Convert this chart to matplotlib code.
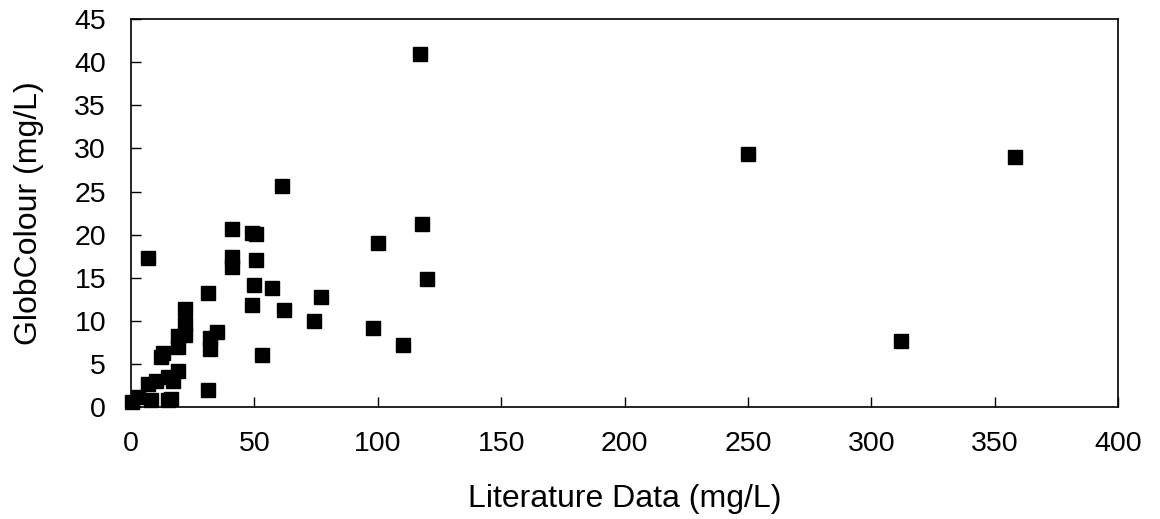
import matplotlib
matplotlib.use('Agg')
import matplotlib.pyplot as plt

plt.rcParams['font.family'] = ['Liberation Sans', 'DejaVu Sans']

# literature vs GlobColour values (mg/L)
lit = [0.5, 3, 8, 7, 10, 15, 16, 15, 17, 19,
       12, 13, 19, 19, 22, 22, 22, 6.8, 31, 31,
       32, 32, 35, 41, 41, 41, 49, 50.5, 50.8, 50,
       49, 53, 57, 61, 62, 74, 77, 98, 100, 110,
       117, 118, 120, 250, 312, 358]
glob = [0.6, 1.1, 0.8, 2.7, 3.0, 0.8, 0.9, 3.5, 3.0, 4.2,
        5.8, 6.3, 7.0, 8.2, 8.3, 9.6, 11.4, 17.3, 13.2, 2.0,
        8.0, 6.7, 8.7, 20.6, 17.4, 16.2, 20.2, 20.1, 17.0, 14.2,
        11.8, 6.0, 13.8, 25.6, 11.3, 10.0, 12.7, 9.2, 19.0, 7.2,
        41.0, 21.2, 14.8, 29.3, 7.6, 29.0]

fig = plt.figure(figsize=(11.6, 5.19), dpi=100)
ax = fig.add_axes([0.113, 0.216, 0.851, 0.747])

ax.plot(lit, glob, 's', color='black', markersize=10.5, linestyle='none',
        clip_on=False)

ax.set_xlim(0, 400)
ax.set_ylim(0, 45)
ax.set_xticks(range(0, 401, 50))
ax.set_yticks(range(0, 46, 5))
ax.tick_params(direction='in', length=7, width=1, labelsize=20.5)
ax.tick_params(axis='x', pad=17)
ax.tick_params(axis='y', pad=18)
for s in ax.spines.values():
    s.set_linewidth(1.2)
    s.set_color('black')

ax.set_xlabel('Literature Data (mg/L)', fontsize=23, labelpad=20)
ax.set_ylabel('GlobColour (mg/L)', fontsize=23, labelpad=22)

fig.savefig('out.png', dpi=100)
